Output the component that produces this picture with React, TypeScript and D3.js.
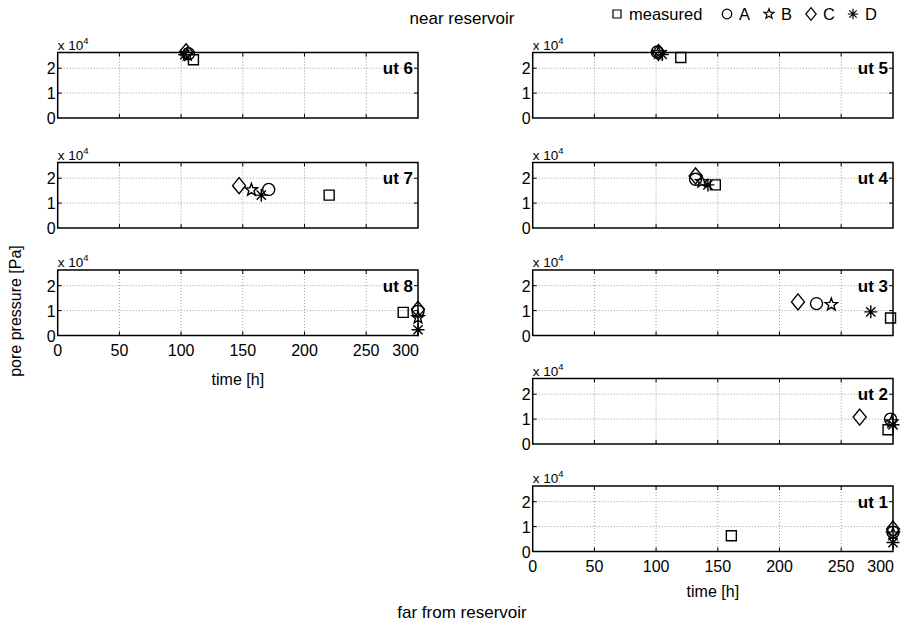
import * as d3 from "d3";

// panels in drawing order, and where they sit (column, row)
const panelNames = ["ut 6", "ut 7", "ut 8", "ut 5", "ut 4", "ut 3", "ut 2", "ut 1"];
const panelCol = [0, 0, 0, 1, 1, 1, 1, 1];
const panelRow = [0, 1, 2, 0, 1, 2, 3, 4];

// time [h] and pore pressure [Pa] per panel (same order as panelNames)
const measuredT = [110, 220, 280, 120, 148, 290, 288, 161];
const measuredP = [23400, 13200, 9300, 24300, 17300, 7000, 5700, 6300];
const aT = [106, 171, 292, 101, 132, 230, 290, 292];
const aP = [25800, 15500, 9700, 26500, 19600, 12800, 10000, 7700];
const bT = [105, 157, 292, 102, 137, 242, 291, 292];
const bP = [25500, 15300, 7200, 26200, 18600, 12400, 8900, 7000];
const cT = [104, 147, 292, 102, 132, 215, 265, 292];
const cP = [26600, 17000, 10500, 26300, 20900, 13500, 10800, 9000];
const dT = [103, 165, 292, 105, 142, 274, 292, 292];
const dP = [25400, 13200, 2300, 25500, 17300, 9500, 7700, 3600];

const seriesNames = ["measured", "A", "B", "C", "D"];
const seriesShape = ["square", "circle", "star", "diamond", "asterisk"];
const seriesT = [measuredT, aT, bT, cT, dT];
const seriesP = [measuredP, aP, bP, cP, dP];

const xTicks = [0, 50, 100, 150, 200, 250];
const xEndLabel = "300";
const yTicks = [0, 10000, 20000];
const xMax = 292;
const yMax = 26300;

const W = 904;
const H = 627;
const colLeft = [57.7, 532.7];
const plotW = 360.3;
const rowTop = [52.5, 162.5, 270, 378.5, 486];
const plotH = 65.5;
const font = "'Liberation Sans', Arial, sans-serif";

function markerPath(shape: string, s = 1) {
  const p = d3.path();
  if (shape === "square") {
    const h = 5 * s;
    p.rect(-h, -h, 2 * h, 2 * h);
  } else if (shape === "circle") {
    const r = 6 * s;
    p.moveTo(r, 0);
    p.arc(0, 0, r, 0, Math.PI * 2);
  } else if (shape === "star") {
    const ro = 6.5 * s;
    const ri = 2.7 * s;
    for (let i = 0; i < 10; i++) {
      const r = i % 2 === 0 ? ro : ri;
      const a = -Math.PI / 2 + (i * Math.PI) / 5;
      if (i === 0) p.moveTo(r * Math.cos(a), r * Math.sin(a));
      else p.lineTo(r * Math.cos(a), r * Math.sin(a));
    }
    p.closePath();
  } else if (shape === "diamond") {
    const w = 6.5 * s;
    const h = 8 * s;
    p.moveTo(0, -h);
    p.lineTo(w, 0);
    p.lineTo(0, h);
    p.lineTo(-w, 0);
    p.closePath();
  } else {
    const r = 6.5 * s;
    const d = r * Math.SQRT1_2;
    p.moveTo(-r, 0);
    p.lineTo(r, 0);
    p.moveTo(0, -r);
    p.lineTo(0, r);
    p.moveTo(-d, -d);
    p.lineTo(d, d);
    p.moveTo(-d, d);
    p.lineTo(d, -d);
  }
  return p.toString();
}

function Panel({ idx }: { idx: number }) {
  const left = colLeft[panelCol[idx]];
  const top = rowTop[panelRow[idx]];
  const x = d3.scaleLinear().domain([0, xMax]).range([left, left + plotW]);
  const y = d3.scaleLinear().domain([0, yMax]).range([top + plotH, top]);
  const bottom = top + plotH;
  const right = left + plotW;
  const isLast = idx === 2 || idx === 7;
  return (
    <g>
      {xTicks.slice(1).map((t) => (
        <line key={"gx" + t} x1={x(t)} x2={x(t)} y1={top} y2={bottom} stroke="#9a9a9a" strokeDasharray="1,2" />
      ))}
      {yTicks.slice(1).map((t) => (
        <line key={"gy" + t} x1={left} x2={right} y1={y(t)} y2={y(t)} stroke="#9a9a9a" strokeDasharray="1,2" />
      ))}
      {xTicks.slice(1).map((t) => (
        <g key={"tx" + t} stroke="#000">
          <line x1={x(t)} x2={x(t)} y1={bottom} y2={bottom - 4} />
          <line x1={x(t)} x2={x(t)} y1={top} y2={top + 4} />
        </g>
      ))}
      {yTicks.slice(1).map((t) => (
        <g key={"ty" + t} stroke="#000">
          <line x1={left} x2={left + 4} y1={y(t)} y2={y(t)} />
          <line x1={right} x2={right - 4} y1={y(t)} y2={y(t)} />
        </g>
      ))}
      <rect x={left} y={top} width={plotW} height={plotH} fill="none" stroke="#000" strokeWidth={1.5} />
      {yTicks.map((t) => (
        <text key={"ly" + t} x={left - 2} y={y(t) + 6} textAnchor="end" fontSize={16} fontFamily={font}>
          {d3.format("d")(t / 10000)}
        </text>
      ))}
      <text x={left} y={top - 3} fontSize={13.5} fontFamily={font}>
        x 10
        <tspan dy={-6} fontSize={9.5}>4</tspan>
      </text>
      <text x={right - 5} y={y(20000) + 6} textAnchor="end" fontSize={17} fontWeight="bold" fontFamily={font}>
        {panelNames[idx]}
      </text>
      {isLast && (
        <g fontSize={16} fontFamily={font}>
          {xTicks.map((t) => (
            <text key={"lx" + t} x={x(t)} y={bottom + 20} textAnchor="middle">
              {t}
            </text>
          ))}
          <text x={right + 1} y={bottom + 20} textAnchor="end">
            {xEndLabel}
          </text>
          <text x={(left + right) / 2} y={bottom + (idx === 2 ? 49 : 45)} textAnchor="middle">
            time [h]
          </text>
        </g>
      )}
      {seriesNames.map((s, si) => (
        <path
          key={s}
          transform={`translate(${x(seriesT[si][idx])},${y(seriesP[si][idx])})`}
          d={markerPath(seriesShape[si])}
          fill="none"
          stroke="#000"
          strokeWidth={1.4}
        />
      ))}
    </g>
  );
}

const legendMarkX = [617, 727, 769, 811, 853];

export default function App() {
  return (
    <svg width={W} height={H} style={{ position: "absolute", left: 0, top: 0, background: "#fff" }}>
      <rect width={W} height={H} fill="#fff" />
      {panelNames.map((_, i) => (
        <Panel key={i} idx={i} />
      ))}
      <text x={462} y={24} textAnchor="middle" fontSize={17} fontFamily={font}>
        near reservoir
      </text>
      <text x={462} y={618} textAnchor="middle" fontSize={17} fontFamily={font}>
        far from reservoir
      </text>
      <text transform="translate(21,311) rotate(-90)" textAnchor="middle" fontSize={16} fontFamily={font}>
        pore pressure [Pa]
      </text>
      {seriesNames.map((s, si) => (
        <g key={s}>
          <path
            transform={`translate(${legendMarkX[si]},14)`}
            d={markerPath(seriesShape[si], 0.8)}
            fill="none"
            stroke="#000"
            strokeWidth={1.2}
          />
          <text x={legendMarkX[si] + 12} y={19.5} fontSize={16.5} fontFamily={font}>
            {s}
          </text>
        </g>
      ))}
    </svg>
  );
}
